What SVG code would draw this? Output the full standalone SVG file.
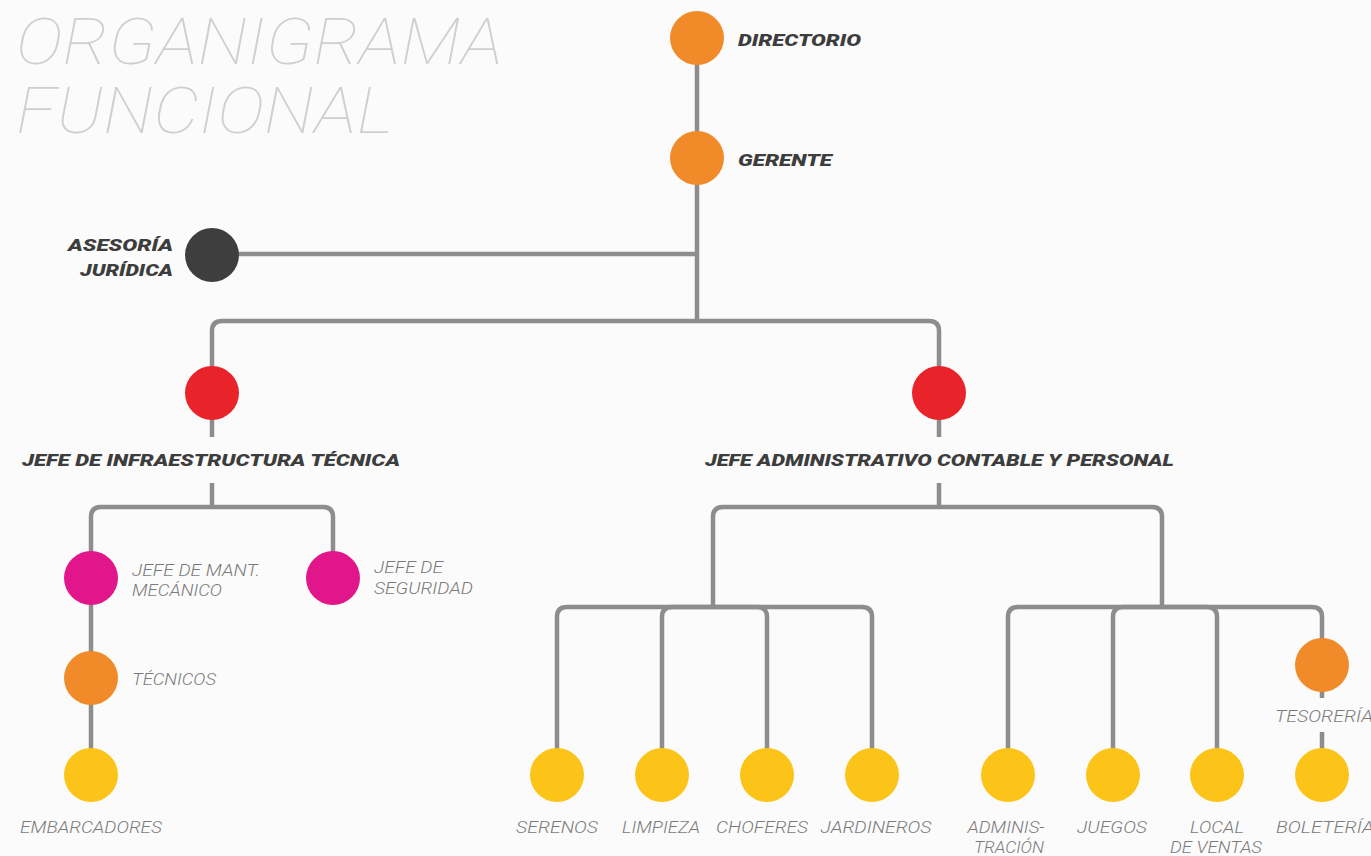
<svg xmlns="http://www.w3.org/2000/svg" width="1371" height="856" viewBox="0 0 1371 856">
<style>
.bg{fill:#fbfbfb}
.ln{fill:none;stroke:#8d8d8d;stroke-width:4.5;stroke-linecap:butt}
.title{font-family:Roboto,"Liberation Sans",sans-serif;font-weight:100;font-style:italic;font-size:64px;fill:#cfcfcf}
.bold{font-family:Roboto,"Liberation Sans",sans-serif;font-weight:900;font-style:italic;font-size:17px;fill:#3d3d3d}
.lt{font-family:Roboto,"Liberation Sans",sans-serif;font-weight:300;font-style:italic;font-size:16px;fill:#7a7a7a}
.or{fill:#f18a28}.rd{fill:#e8232a}.mg{fill:#e2168b}.yl{fill:#fcc419}.dk{fill:#3e3e3e}
</style>
<rect class="bg" x="0" y="0" width="1371" height="856"/>
<g id="title">
<text class="title" x="16" y="64" textLength="487" lengthAdjust="spacingAndGlyphs">ORGANIGRAMA</text>
<text class="title" x="16" y="133" textLength="377" lengthAdjust="spacingAndGlyphs">FUNCIONAL</text>
</g>
<g id="connectors">
<path class="ln" d="M697,38 V323"/>
<path class="ln" d="M212,254 H697"/>
<path class="ln" d="M212,393 V331 Q212,321 222,321 H929 Q939,321 939,331 V393"/>
<path class="ln" d="M212,393 V437"/>
<path class="ln" d="M212,483 V507"/>
<path class="ln" d="M91,578 V517 Q91,507 101,507 H323 Q333,507 333,517 V578"/>
<path class="ln" d="M91,578 V775"/>
<path class="ln" d="M939,393 V437"/>
<path class="ln" d="M939,483 V507"/>
<path class="ln" d="M713,607 V517 Q713,507 723,507 H1152 Q1162,507 1162,517 V607"/>
<path class="ln" d="M557,775 V617 Q557,607 567,607 H862 Q872,607 872,617 V775"/>
<path class="ln" d="M662,775 V617 Q662,607 672,607 H757 Q767,607 767,617 V775"/>
<path class="ln" d="M1008,775 V617 Q1008,607 1018,607 H1312 Q1322,607 1322,617 V665"/>
<path class="ln" d="M1113,775 V617 Q1113,607 1123,607 H1207 Q1217,607 1217,617 V775"/>
<path class="ln" d="M1322,665 V698"/>
<path class="ln" d="M1322,732 V775"/>
</g>
<g id="directorio">
<circle class="or" cx="697" cy="38" r="27"/>
<text class="bold" x="738" y="46" textLength="123" lengthAdjust="spacingAndGlyphs">DIRECTORIO</text>
</g>
<g id="gerente">
<circle class="or" cx="697" cy="158" r="27"/>
<text class="bold" x="738" y="166" textLength="94" lengthAdjust="spacingAndGlyphs">GERENTE</text>
</g>
<g id="asesoria">
<circle class="dk" cx="212" cy="255" r="27"/>
<text class="bold" x="173" y="251" text-anchor="end" textLength="105" lengthAdjust="spacingAndGlyphs">ASESORÍA</text>
<text class="bold" x="173" y="276" text-anchor="end" textLength="93" lengthAdjust="spacingAndGlyphs">JURÍDICA</text>
</g>
<g id="jefe-infra">
<circle class="rd" cx="212" cy="393" r="27"/>
<text class="bold" x="22" y="466" textLength="378" lengthAdjust="spacingAndGlyphs">JEFE DE INFRAESTRUCTURA TÉCNICA</text>
</g>
<g id="jefe-admin">
<circle class="rd" cx="939" cy="393" r="27"/>
<text class="bold" x="705" y="466" textLength="469" lengthAdjust="spacingAndGlyphs">JEFE ADMINISTRATIVO CONTABLE Y PERSONAL</text>
</g>
<g id="jefe-mant">
<circle class="mg" cx="91" cy="578" r="27"/>
<text class="lt" x="132" y="576" textLength="128" lengthAdjust="spacingAndGlyphs">JEFE DE MANT.</text>
<text class="lt" x="132" y="596" textLength="90" lengthAdjust="spacingAndGlyphs">MECÁNICO</text>
</g>
<g id="jefe-seguridad">
<circle class="mg" cx="333" cy="578" r="27"/>
<text class="lt" x="374" y="573" textLength="69" lengthAdjust="spacingAndGlyphs">JEFE DE</text>
<text class="lt" x="374" y="594" textLength="99" lengthAdjust="spacingAndGlyphs">SEGURIDAD</text>
</g>
<g id="tecnicos">
<circle class="or" cx="91" cy="678" r="27"/>
<text class="lt" x="132" y="685" textLength="84" lengthAdjust="spacingAndGlyphs">TÉCNICOS</text>
</g>
<g id="embarcadores">
<circle class="yl" cx="91" cy="775" r="27"/>
<text class="lt" x="20" y="833" textLength="142" lengthAdjust="spacingAndGlyphs">EMBARCADORES</text>
</g>
<g id="serenos">
<circle class="yl" cx="557" cy="775" r="27"/>
<text class="lt" x="557" y="833" text-anchor="middle" textLength="82" lengthAdjust="spacingAndGlyphs">SERENOS</text>
</g>
<g id="limpieza">
<circle class="yl" cx="662" cy="775" r="27"/>
<text class="lt" x="661" y="833" text-anchor="middle" textLength="78" lengthAdjust="spacingAndGlyphs">LIMPIEZA</text>
</g>
<g id="choferes">
<circle class="yl" cx="767" cy="775" r="27"/>
<text class="lt" x="762" y="833" text-anchor="middle" textLength="92" lengthAdjust="spacingAndGlyphs">CHOFERES</text>
</g>
<g id="jardineros">
<circle class="yl" cx="872" cy="775" r="27"/>
<text class="lt" x="876" y="833" text-anchor="middle" textLength="111" lengthAdjust="spacingAndGlyphs">JARDINEROS</text>
</g>
<g id="administracion">
<circle class="yl" cx="1008" cy="775" r="27"/>
<text class="lt" x="1006" y="833" text-anchor="middle" textLength="77" lengthAdjust="spacingAndGlyphs">ADMINIS-</text>
<text class="lt" x="1009" y="853" text-anchor="middle" textLength="70" lengthAdjust="spacingAndGlyphs">TRACIÓN</text>
</g>
<g id="juegos">
<circle class="yl" cx="1113" cy="775" r="27"/>
<text class="lt" x="1112" y="833" text-anchor="middle" textLength="70" lengthAdjust="spacingAndGlyphs">JUEGOS</text>
</g>
<g id="local-ventas">
<circle class="yl" cx="1217" cy="775" r="27"/>
<text class="lt" x="1217" y="833" text-anchor="middle" textLength="54" lengthAdjust="spacingAndGlyphs">LOCAL</text>
<text class="lt" x="1216" y="853" text-anchor="middle" textLength="92" lengthAdjust="spacingAndGlyphs">DE VENTAS</text>
</g>
<g id="tesoreria">
<circle class="or" cx="1322" cy="665" r="27"/>
<text class="lt" x="1275" y="722" textLength="98" lengthAdjust="spacingAndGlyphs">TESORERÍA</text>
</g>
<g id="boleteria">
<circle class="yl" cx="1322" cy="775" r="27"/>
<text class="lt" x="1276" y="833" textLength="98" lengthAdjust="spacingAndGlyphs">BOLETERÍA</text>
</g>
</svg>
